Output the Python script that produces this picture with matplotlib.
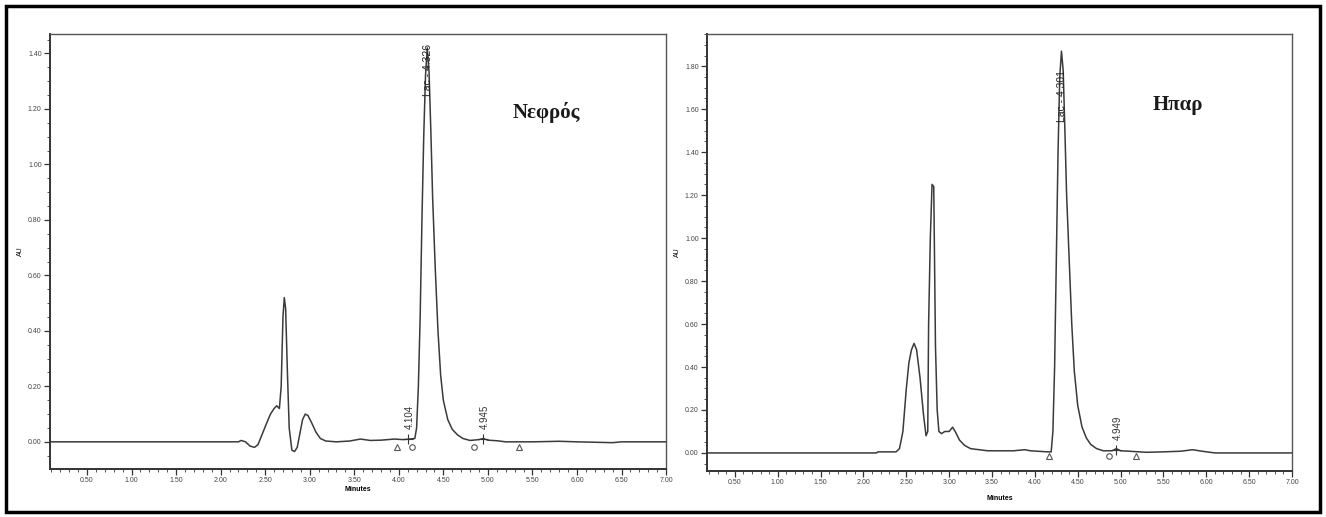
import matplotlib.pyplot as plt
from matplotlib.patches import Rectangle
from matplotlib.ticker import MultipleLocator
import numpy as np

# Kidney (Νεφρός) chromatogram: minutes, AU
kidney_t = [0.08, 2.20, 2.23, 2.28, 2.33, 2.38, 2.42, 2.47, 2.52, 2.56, 2.60, 2.63,
            2.66, 2.68, 2.70, 2.715, 2.73, 2.75, 2.77, 2.80, 2.83, 2.86, 2.89, 2.92,
            2.95, 2.98, 3.02, 3.07, 3.12, 3.18, 3.30, 3.45, 3.57, 3.68, 3.80, 3.95,
            4.05, 4.12, 4.18, 4.20, 4.22, 4.24, 4.26, 4.28, 4.30, 4.32, 4.34, 4.36,
            4.38, 4.41, 4.44, 4.47, 4.50, 4.55, 4.60, 4.66, 4.72, 4.80, 4.90, 4.95,
            5.00, 5.10, 5.20, 5.50, 5.80, 6.00, 6.40, 6.50, 7.00]
kidney_au = [0.0, 0.0, 0.005, 0.0, -0.015, -0.02, -0.01, 0.03, 0.07, 0.10, 0.12, 0.13,
             0.12, 0.20, 0.45, 0.52, 0.48, 0.25, 0.05, -0.03, -0.035, -0.02, 0.03, 0.08,
             0.10, 0.095, 0.07, 0.035, 0.012, 0.003, 0.0, 0.003, 0.01, 0.005, 0.006, 0.01,
             0.008, 0.01, 0.012, 0.05, 0.20, 0.45, 0.80, 1.10, 1.32, 1.42, 1.33, 1.12,
             0.88, 0.62, 0.40, 0.24, 0.15, 0.08, 0.045, 0.025, 0.012, 0.005, 0.008, 0.012,
             0.006, 0.004, 0.0, 0.0, 0.002, 0.0, -0.003, 0.0, 0.0]

# Liver (Ηπαρ) chromatogram
liver_t = [0.17, 2.15, 2.17, 2.38, 2.42, 2.46, 2.50, 2.53, 2.56, 2.59, 2.62, 2.66,
           2.70, 2.73, 2.75, 2.76, 2.78, 2.80, 2.82, 2.84, 2.86, 2.88, 2.91, 2.95,
           3.00, 3.04, 3.07, 3.12, 3.18, 3.25, 3.35, 3.45, 3.55, 3.75, 3.88, 3.95,
           4.15, 4.19, 4.21, 4.23, 4.25, 4.27, 4.29, 4.31, 4.33, 4.35, 4.37, 4.40,
           4.43, 4.46, 4.50, 4.55, 4.60, 4.65, 4.72, 4.80, 4.90, 4.95, 5.00, 5.10,
           5.30, 5.50, 5.70, 5.84, 5.95, 6.10, 7.00]
liver_au = [0.0, 0.0, 0.005, 0.005, 0.02, 0.10, 0.30, 0.42, 0.48, 0.51, 0.48, 0.35,
            0.18, 0.08, 0.10, 0.60, 1.00, 1.25, 1.24, 0.50, 0.20, 0.10, 0.09, 0.10,
            0.10, 0.12, 0.10, 0.06, 0.035, 0.02, 0.015, 0.01, 0.01, 0.01, 0.015, 0.01,
            0.005, 0.005, 0.10, 0.40, 0.90, 1.40, 1.75, 1.87, 1.78, 1.50, 1.20, 0.90,
            0.60, 0.38, 0.22, 0.12, 0.07, 0.04, 0.02, 0.01, 0.01, 0.02, 0.01, 0.008,
            0.003, 0.005, 0.008, 0.015, 0.008, 0.0, 0.0]

# integration marks
kidney_tri = [3.98, 5.35]
kidney_circ = [4.15, 4.84]
kidney_plus = [4.104, 4.945]
kidney_plus_lbl = ["4.104", "4.945"]
kidney_peak = (4.32, "Lac - 4.326")

liver_tri = [4.17, 5.18]
liver_circ = [4.86]
liver_plus = [4.949]
liver_plus_lbl = ["4.949"]
liver_peak = (4.31, "Lac - 4.301")

line_col = '#3a3a3a'
tick_font = dict(family='Liberation Sans', size=5, color='#444444')


def draw_panel(ax, t, au, xlim, ylim, tri, circ, plus, plus_lbl, peak, title,
               peak_y, mark_y, title_xy):
    ax.plot(t, au, color=line_col, lw=1.1)
    ax.set_xlim(*xlim)
    ax.set_ylim(*ylim)

    # integration markers
    ax.plot(tri, [mark_y] * len(tri), ls='none', marker='^', ms=5, mfc='white',
            mec='#555555', mew=0.8)
    ax.plot(circ, [mark_y] * len(circ), ls='none', marker='o', ms=4, mfc='white',
            mec='#555555', mew=0.8)
    ax.plot(plus, [0.012] * len(plus), ls='none', marker='+', ms=7, color='#333333', mew=0.8)
    for x, s in zip(plus, plus_lbl):
        ax.text(x + 0.02, 0.045 * (ylim[1] - ylim[0]) / 1.57, s, rotation=90, ha='center',
                va='bottom', fontsize=7, family='Liberation Sans', color='#333333')
    ax.text(peak[0] + 0.01, peak_y, peak[1], rotation=90, ha='center', va='center',
            fontsize=7.5, family='Liberation Sans', color='#222222')

    ax.text(title_xy[0], title_xy[1], title, transform=ax.transAxes, ha='center',
            va='center', fontsize=15, family='Liberation Serif', weight='bold',
            color='#1a1a1a')

    ax.xaxis.set_minor_locator(MultipleLocator(0.1))
    ax.yaxis.set_minor_locator(MultipleLocator(0.05))
    xt = [v for v in np.arange(0.5, 7.01, 0.5)]
    ax.set_xticks(xt)
    ax.set_xticklabels(["%.2f" % v for v in xt], **tick_font)
    yt = [v for v in np.arange(0.0, ylim[1], 0.2)]
    ax.set_yticks(yt)
    ax.set_yticklabels(["%.2f" % v for v in yt], **tick_font)
    ax.tick_params(which='major', length=4, width=0.9, color='#333333', pad=2)
    ax.tick_params(which='minor', length=2, width=0.7, color='#555555')

    for side in ['left', 'bottom']:
        ax.spines[side].set_linewidth(1.4)
        ax.spines[side].set_color('#333333')
    for side in ['top', 'right']:
        ax.spines[side].set_linewidth(1.0)
        ax.spines[side].set_color('#555555')


fig = plt.figure(figsize=(13.26, 5.17), dpi=100)

ax1 = fig.add_axes([0.0377, 0.0928, 0.4646, 0.8414])
draw_panel(ax1, kidney_t, kidney_au, (0.085, 7.0), (-0.098, 1.47), kidney_tri,
           kidney_circ, kidney_plus, kidney_plus_lbl, kidney_peak, "Νεφρός",
           1.34, -0.02, (0.805, 0.82))
ax1.set_xlabel("Minutes", fontsize=5, family='Liberation Sans', weight='bold', labelpad=1)
ax1.set_ylabel("AU", fontsize=5, family='Liberation Sans', labelpad=3)

ax2 = fig.add_axes([0.5332, 0.0890, 0.4412, 0.8452])
draw_panel(ax2, liver_t, liver_au, (0.175, 7.0), (-0.084, 1.95), liver_tri,
           liver_circ, liver_plus, liver_plus_lbl, liver_peak, "Ηπαρ",
           1.66, -0.015, (0.805, 0.838))
ax2.set_xlabel("Minutes", fontsize=5, family='Liberation Sans', weight='bold', labelpad=6)
ax2.set_ylabel("AU", fontsize=5, family='Liberation Sans', labelpad=3)

# outer frame
fig.patches.append(Rectangle((6 / 1326, 5 / 517), 1314 / 1326, 506 / 517,
                             transform=fig.transFigure, fill=False, lw=2.5,
                             edgecolor='black'))

fig.savefig('out.png', dpi=100)
